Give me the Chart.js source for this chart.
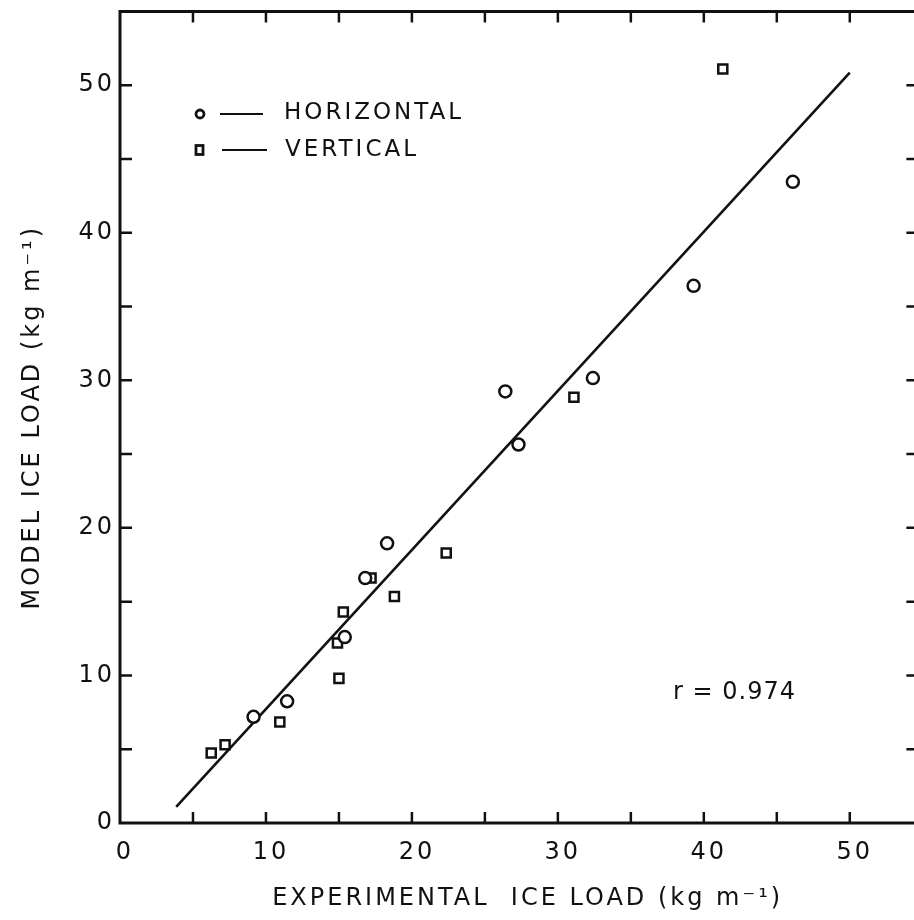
<!DOCTYPE html>
<html>
<head>
<meta charset="utf-8">
<script src="https://cdn.jsdelivr.net/npm/chart.js@4.4.0/dist/chart.umd.min.js"></script>
<style>
  html, body { margin: 0; padding: 0; background: #fff; overflow: hidden; }
</style>
</head>
<body>
<canvas id="chart" width="914" height="920"></canvas>
<script>
// Ice load values (kg m^-1)
const horizontalX = [46.1, 39.3, 32.4, 26.4, 27.3, 18.3, 16.8, 15.4, 11.45, 9.15];
const horizontalY = [43.45, 36.4, 30.15, 29.25, 25.65, 18.95, 16.6, 12.6, 8.25, 7.2];

const verticalX = [41.3, 31.1, 22.35, 17.2, 18.8, 15.3, 14.9, 15.0, 10.95, 7.2, 6.25];
const verticalY = [51.1, 28.85, 18.3, 16.6, 15.35, 14.3, 12.2, 9.8, 6.85, 5.3, 4.75];

// regression line end points
const fitX = [3.85, 50.0];
const fitY = [1.1, 50.85];

const labelledTicks = [0, 10, 20, 30, 40, 50];
const legendLabels = ['HORIZONTAL', 'VERTICAL'];
const rText = 'r = 0.974';

const INK = '#111';
const FONT = "'DejaVu Sans', sans-serif";
const FRAME_RIGHT = 54.7; // right border of the scan's box lies just past the crop

Chart.defaults.color = INK;
Chart.defaults.font.family = FONT;

function toPoints(xs, ys) {
    return xs.map((v, i) => ({ x: v, y: ys[i] }));
}

// Box with inward ticks, legend and the r label
const framePlugin = {
    id: 'frame',
    beforeLayout(chart) {
        chart.ctx.letterSpacing = '3px';
    },
    beforeDraw(chart) {
        chart.ctx.letterSpacing = '3px';
    },
    afterDatasetsDraw(chart) {
        const { ctx, chartArea: a, scales: { x, y } } = chart;
        const right = x.getPixelForValue(FRAME_RIGHT);
        ctx.save();
        ctx.strokeStyle = INK;
        ctx.fillStyle = INK;

        // top, left and bottom sides only; the right side is cropped off
        ctx.lineWidth = 3;
        ctx.beginPath();
        ctx.moveTo(right, a.top);
        ctx.lineTo(a.left, a.top);
        ctx.lineTo(a.left, a.bottom);
        ctx.lineTo(right, a.bottom);
        ctx.stroke();

        ctx.lineWidth = 2.5;
        ctx.beginPath();
        x.ticks.forEach(t => {
            if (t.value % 5 !== 0 || t.value === 0) return;
            const px = x.getPixelForValue(t.value);
            ctx.moveTo(px, a.bottom); ctx.lineTo(px, a.bottom - 11);
            ctx.moveTo(px, a.top); ctx.lineTo(px, a.top + 11);
        });
        y.ticks.forEach(t => {
            if (t.value % 5 !== 0 || t.value === 0 || t.value >= y.max) return;
            const py = y.getPixelForValue(t.value);
            ctx.moveTo(a.left, py); ctx.lineTo(a.left + 12, py);
            ctx.moveTo(right, py); ctx.lineTo(right - 12, py);
        });
        ctx.stroke();

        // legend
        ctx.lineWidth = 2.8;
        ctx.beginPath();
        ctx.arc(200, 114, 4, 0, Math.PI * 2);
        ctx.stroke();
        ctx.strokeRect(196, 145.5, 7, 9);
        ctx.lineWidth = 2.2;
        ctx.beginPath();
        ctx.moveTo(220, 114); ctx.lineTo(263, 114);
        ctx.moveTo(222, 150); ctx.lineTo(267, 150);
        ctx.stroke();

        ctx.font = "23px " + FONT;
        ctx.textBaseline = 'middle';
        ctx.textAlign = 'left';
        ctx.letterSpacing = '3px';
        ctx.fillText(legendLabels[0], 284, 113);
        ctx.fillText(legendLabels[1], 285, 150);

        ctx.font = "24px " + FONT;
        ctx.letterSpacing = '1px';
        ctx.fillText(rText, 673, 693);
        ctx.restore();
    }
};

new Chart(document.getElementById('chart'), {
    type: 'scatter',
    data: {
        datasets: [
            {
                label: legendLabels[0],
                data: toPoints(horizontalX, horizontalY),
                pointStyle: 'circle',
                pointRadius: 6,
                pointBorderWidth: 2.5,
                pointBorderColor: INK,
                pointBackgroundColor: '#fff',
                order: 1
            },
            {
                label: legendLabels[1],
                data: toPoints(verticalX, verticalY),
                pointStyle: 'rect',
                pointRadius: 6.4,
                pointBorderWidth: 2.5,
                pointBorderColor: INK,
                pointBackgroundColor: '#fff',
                order: 1
            },
            {
                label: 'fit',
                type: 'line',
                data: toPoints(fitX, fitY),
                borderColor: INK,
                borderWidth: 2.6,
                pointRadius: 0,
                fill: false,
                order: 2
            }
        ]
    },
    options: {
        responsive: false,
        animation: false,
        layout: { autoPadding: false, padding: { top: 10, right: 0, left: 0, bottom: 0 } },
        plugins: {
            legend: { display: false },
            tooltip: { enabled: false }
        },
        scales: {
            x: {
                type: 'linear',
                min: 0,
                max: 54.4,
                grid: { display: false },
                border: { display: false },
                ticks: {
                    stepSize: 5,
                    includeBounds: false,
                    padding: 7,
                    labelOffset: 5,
                    maxRotation: 0,
                    autoSkip: false,
                    font: { size: 24 },
                    callback: v => labelledTicks.includes(v) ? String(v) : ''
                },
                title: {
                    display: true,
                    text: '  EXPERIMENTAL  ICE LOAD (kg m\u207B\u00B9)',
                    font: { size: 24 },
                    padding: { top: 0, bottom: 7 }
                },
                afterFit: s => { s.height = 97; }
            },
            y: {
                type: 'linear',
                min: 0,
                max: 55,
                grid: { display: false },
                border: { display: false },
                ticks: {
                    stepSize: 5,
                    includeBounds: false,
                    padding: -3,
                    autoSkip: false,
                    font: { size: 24 },
                    callback: v => labelledTicks.includes(v) ? String(v) : ''
                },
                title: {
                    display: true,
                    text: 'MODEL ICE LOAD (kg m\u207B\u00B9)',
                    font: { size: 24 },
                    padding: { top: 18, bottom: 0 }
                },
                afterFit: s => { s.width = 120; }
            }
        }
    },
    plugins: [framePlugin]
});
</script>
</body>
</html>
